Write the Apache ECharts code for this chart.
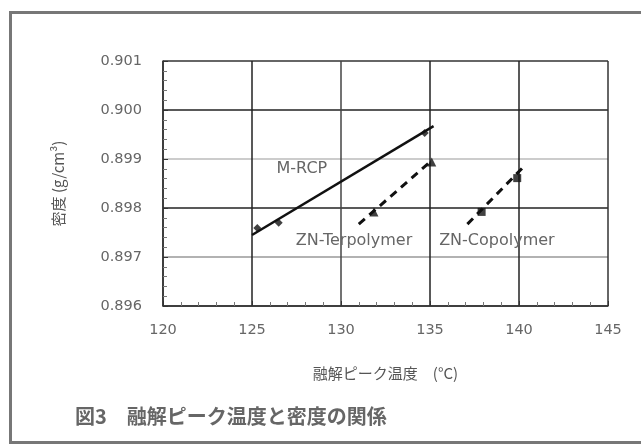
<!DOCTYPE html>
<html>
<head>
<meta charset="utf-8">
<script src="https://cdn.jsdelivr.net/npm/echarts@6/dist/echarts.min.js"></script>
<style>
  html, body { margin: 0; padding: 0; background: #fff; }
  #chart { width: 641px; height: 446px; }
</style>
</head>
<body>
<div id="chart"></div>
<script>
// Melting peak temperature (°C) vs density (g/cm3)
const xTicks = [120, 125, 130, 135, 140, 145];
const yTicks = [0.896, 0.897, 0.898, 0.899, 0.900, 0.901];

// measured points
const mrcpPoints = [[125.3, 0.89759], [126.5, 0.89770], [134.7, 0.89953]];
const terPoints = [[131.85, 0.89792], [135.1, 0.89894]];
const coPoints = [[137.9, 0.89792], [139.9, 0.89861]];

// fitted trend lines (start, end)
const mrcpTrend = [[125.0, 0.89745], [135.2, 0.89967]];
const terTrend = [[131.0, 0.89767], [135.1, 0.89897]];
const coTrend = [[137.1, 0.89767], [140.2, 0.89882]];

const seriesNames = ['M-RCP', 'ZN-Terpolymer', 'ZN-Copolymer'];

const LATIN = '"DejaVu Sans", Verdana, sans-serif';
const JP = '"Noto Sans CJK JP", "DejaVu Sans", sans-serif';

const chart = echarts.init(document.getElementById('chart'), null, { renderer: 'canvas' });

function nameLabel(text, coord) {
  return {
    symbol: 'circle', symbolSize: 0, silent: true,
    label: { show: true, position: 'inside', formatter: text, color: '#666', fontSize: 16, fontFamily: LATIN },
    data: [{ coord: coord }]
  };
}

chart.setOption({
  backgroundColor: '#fff',
  animation: false,
  graphic: [
    {
      type: 'rect', silent: true,
      shape: { x: 10.5, y: 12.5, width: 660, height: 430 },
      style: { fill: 'none', stroke: '#777', lineWidth: 3 }
    },
    {
      type: 'text', left: 75, top: 406, silent: true,
      style: { text: '図3　融解ピーク温度と密度の関係', fill: '#666', font: 'bold 20px ' + JP }
    }
  ],
  grid: { left: 163, right: 33, top: 61, bottom: 140, containLabel: false },
  xAxis: {
    type: 'value', min: xTicks[0], max: xTicks[xTicks.length - 1], interval: 5,
    name: '融解ピーク温度　(°C)', nameLocation: 'middle', nameGap: 60,
    nameTextStyle: { color: '#555', fontSize: 15, fontFamily: JP },
    axisLine: { show: true, lineStyle: { color: '#333', width: 1.5 } },
    axisTick: { show: true, inside: true, length: 5, lineStyle: { color: '#333' } },
    minorTick: { show: true, splitNumber: 5, length: 4, lineStyle: { color: '#777' } },
    axisLabel: { color: '#666', fontSize: 14.5, fontFamily: LATIN, margin: 17 },
    splitLine: { show: true, lineStyle: { color: ['#333', '#222', '#444', '#222', '#222', '#333'], width: 1.5 } }
  },
  yAxis: {
    type: 'value', min: yTicks[0], max: yTicks[yTicks.length - 1], interval: 0.001,
    name: '密度 (g/cm³)', nameLocation: 'middle', nameGap: 97, nameRotate: 90,
    nameTextStyle: { color: '#555', fontSize: 15, fontFamily: JP },
    axisLine: { show: true, lineStyle: { color: '#333', width: 1.5 } },
    axisTick: { show: true, inside: true, length: 5, lineStyle: { color: '#333' } },
    minorTick: { show: true, splitNumber: 5, length: 4, lineStyle: { color: '#777' } },
    axisLabel: {
      color: '#666', fontSize: 14.5, fontFamily: LATIN, margin: 21,
      formatter: v => v.toFixed(3)
    },
    splitLine: { show: true, lineStyle: { color: ['#333', '#999', '#222', '#bbb', '#222', '#333'], width: 1.5 } }
  },
  series: [
    {
      name: seriesNames[0] + ' fit', type: 'line', data: mrcpTrend, symbol: 'none',
      lineStyle: { color: '#111', width: 2.5 }, z: 3,
      markPoint: nameLabel(seriesNames[0], [127.8, 0.8988])
    },
    {
      name: seriesNames[1] + ' fit', type: 'line', data: terTrend, symbol: 'none',
      lineStyle: { color: '#111', width: 3, type: [8, 6] }, z: 3,
      markPoint: nameLabel(seriesNames[1], [130.73, 0.89733])
    },
    {
      name: seriesNames[2] + ' fit', type: 'line', data: coTrend, symbol: 'none',
      lineStyle: { color: '#111', width: 3, type: [8, 6] }, z: 3,
      markPoint: nameLabel(seriesNames[2], [138.76, 0.89733])
    },
    {
      name: seriesNames[0], type: 'scatter', data: mrcpPoints, symbol: 'diamond', symbolSize: 8,
      itemStyle: { color: '#111' }, z: 4
    },
    {
      name: seriesNames[1], type: 'scatter', data: terPoints, symbol: 'triangle', symbolSize: 9,
      itemStyle: { color: '#111' }, z: 4
    },
    {
      name: seriesNames[2], type: 'scatter', data: coPoints, symbol: 'rect', symbolSize: 8,
      itemStyle: { color: '#111' }, z: 4
    }
  ]
});
</script>
</body>
</html>
